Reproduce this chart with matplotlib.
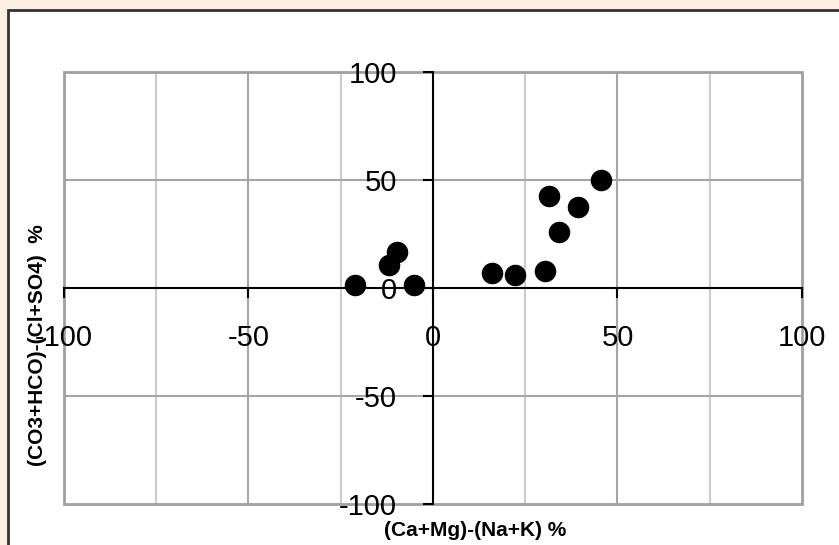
import matplotlib
matplotlib.use('Agg')
import matplotlib.pyplot as plt
import matplotlib.ticker as ticker
from matplotlib.patches import Rectangle

# Ionic balance values (%)
cations_diff = [-21.1, -11.8, -9.8, -5.1, 16.1, 22.2, 30.4, 31.4, 34.1, 39.2, 45.4]
anions_diff = [1.4, 10.7, 16.8, 1.4, 7.1, 6.0, 8.0, 42.8, 25.7, 37.7, 50.1]

x_ticks = [-100, -50, 0, 50, 100]
y_ticks = [-100, -50, 0, 50, 100]
x_label = '(Ca+Mg)-(Na+K) %'
y_label = '(CO3+HCO)-(Cl+SO4)  %'

plt.rcParams['axes.unicode_minus'] = False
tick_font = ['Liberation Sans Narrow', 'Liberation Sans', 'DejaVu Sans']
label_font = ['Liberation Sans', 'DejaVu Sans']

W, H = 839, 545
fig = plt.figure(figsize=(W / 100, H / 100), dpi=100)
fig.patch.set_facecolor('#fdeee2')

# white chart box with dark border (left/top edges only visible)
box = Rectangle((8 / W, -0.1), 1.2, 1 - 10 / H + 0.1, transform=fig.transFigure,
                facecolor='white', edgecolor='#333333', linewidth=2, zorder=-10)
fig.patches.append(box)

ax = fig.add_axes([64 / W, 1 - 504 / H, (802 - 64) / W, (504 - 72) / H])
ax.set_facecolor('white')
ax.set_xlim(-100, 100)
ax.set_ylim(-100, 100)

# gridlines
for gx in [-75, -25, 25, 75]:
    ax.axvline(gx, color='#cccccc', linewidth=1.5, zorder=1)
for gx in [-50, 50]:
    ax.axvline(gx, color='#a6a6a6', linewidth=1.5, zorder=1)
for gy in [-50, 50]:
    ax.axhline(gy, color='#a6a6a6', linewidth=1.5, zorder=1)

for side in ['top', 'right']:
    ax.spines[side].set_visible(False)
ax.spines['left'].set_position('zero')
ax.spines['bottom'].set_position('zero')
ax.spines['left'].set_linewidth(1.5)
ax.spines['bottom'].set_linewidth(1.5)
ax.spines['left'].set_zorder(2)
ax.spines['bottom'].set_zorder(2)

frame = Rectangle((0, 0), 1, 1, transform=ax.transAxes, fill=False,
                  edgecolor='#a0a0a0', linewidth=2, clip_on=False, zorder=1.5)
ax.add_patch(frame)

ax.xaxis.set_major_locator(ticker.FixedLocator(x_ticks))
ax.yaxis.set_major_locator(ticker.FixedLocator(y_ticks))
ax.tick_params(axis='both', direction='out', length=7, width=1.5, pad=19,
               labelsize=21, colors='black')
for lab in ax.get_xticklabels() + ax.get_yticklabels():
    lab.set_family(tick_font)
    lab.set_fontweight('light')

ax.scatter(cations_diff, anions_diff, s=210, color='black', zorder=3, clip_on=False)

fig.text(475 / W, 1 - 530 / H, x_label, ha='center', va='center',
         fontsize=15, fontweight='bold', family=label_font)
fig.text(38 / W, 1 - 345 / H, y_label, ha='center', va='center', rotation=90,
         fontsize=15, fontweight='bold', family=label_font)

fig.savefig('out.png', dpi=100, facecolor=fig.get_facecolor())
